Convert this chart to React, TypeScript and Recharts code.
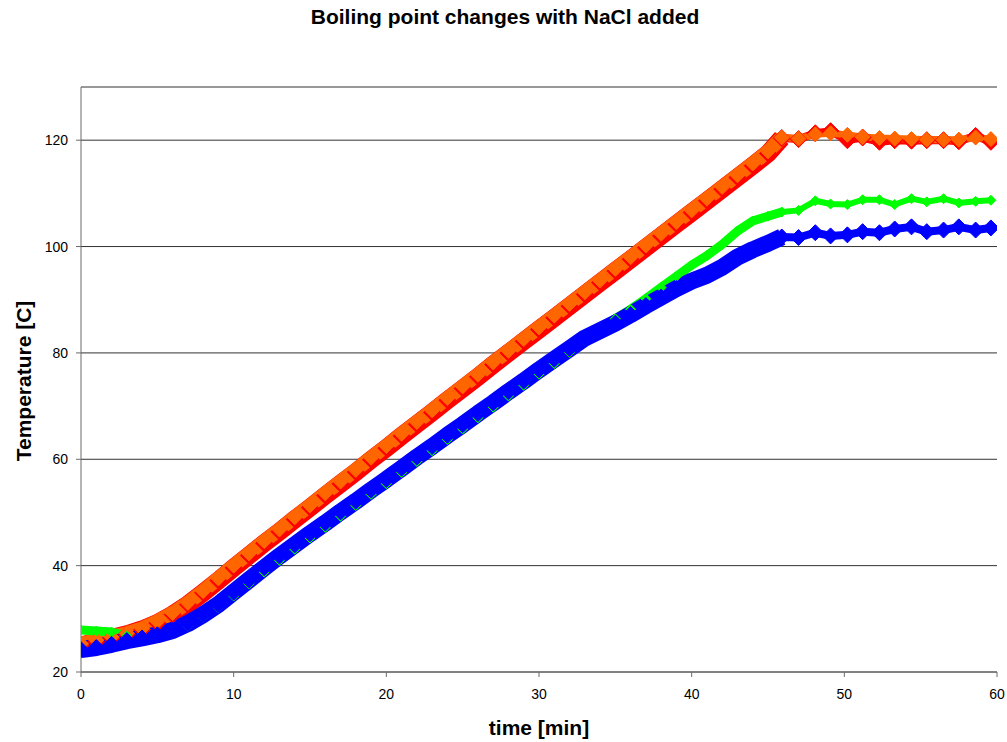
import { CartesianGrid, Line, LineChart, XAxis, YAxis } from "recharts";

// time [min]; 1-min readings while heating, then the sparser plateau samples
const TIME = [
  0, 1, 2, 3, 4, 5, 6, 7, 8, 9, 10, 11, 12, 13, 14, 15, 16, 17, 18, 19, 20, 21, 22, 23,
  24, 25, 26, 27, 28, 29, 30, 31, 32, 33, 34, 35, 36, 37, 38, 39, 40, 41, 42, 43, 44, 45,
  45.9, 47.0, 48.1, 49.1, 50.2, 51.2, 52.3, 53.3, 54.4, 55.4, 56.5, 57.5, 58.6, 59.6,
];

const BLUE = [
  24.2, 24.6, 25.2, 25.9, 26.4, 27.0, 27.8, 29.1, 30.8, 32.7, 35.0, 37.3, 39.6, 41.8, 43.9,
  46.0, 48.0, 50.1, 52.1, 54.2, 56.2, 58.3, 60.4, 62.4, 64.5, 66.5, 68.6, 70.6, 72.7, 74.7,
  76.8, 78.8, 80.8, 82.8, 84.2, 85.6, 87.2, 88.9, 90.5, 92.1, 93.5, 94.6, 96.1, 98.0, 99.4,
  100.6,
  101.8, 101.7, 102.6, 102.0, 102.2, 102.8, 102.6, 103.3, 103.7, 102.8, 103.1, 103.7, 103.1, 103.5,
];

const GREEN = [
  27.9, 27.7, 27.5, 26.8, 26.1, 26.6, 27.3, 28.6, 30.3, 32.1, 34.3, 36.6, 38.8, 41.0, 43.1,
  45.2, 47.2, 49.3, 51.3, 53.4, 55.4, 57.5, 59.6, 61.6, 63.7, 65.7, 67.8, 69.8, 71.9, 73.9,
  76.0, 78.0, 80.1, 82.3, 84.6, 86.4, 88.2, 90.2, 92.3, 94.4, 96.5, 98.3, 100.4, 102.9, 104.8,
  105.7,
  106.5, 106.8, 108.6, 108.0, 107.9, 108.8, 108.8, 107.9, 109.0, 108.4, 109.0, 108.2, 108.5, 108.7,
];

const RED = [
  25.0, 25.7, 26.4, 27.1, 28.0, 29.2, 30.8, 32.7, 34.9, 37.2, 39.6, 41.9, 44.2, 46.4, 48.7,
  50.9, 53.2, 55.4, 57.6, 59.9, 62.1, 64.4, 66.6, 68.8, 71.1, 73.3, 75.5, 77.8, 80.0, 82.2,
  84.4, 86.6, 88.8, 91.0, 93.2, 95.4, 97.6, 99.8, 102.0, 104.2, 106.4, 108.6, 110.8, 113.0, 115.2,
  117.5,
  120.4, 120.2, 121.3, 121.7, 120.0, 120.5, 119.7, 120.0, 119.9, 120.0, 120.0, 119.8, 120.8, 119.7,
];

const ORANGE = [
  25.3, 26.0, 26.6, 27.3, 28.2, 29.5, 31.1, 33.0, 35.2, 37.6, 40.0, 42.3, 44.6, 46.8, 49.1,
  51.3, 53.6, 55.8, 58.0, 60.3, 62.5, 64.8, 67.0, 69.2, 71.5, 73.7, 75.9, 78.2, 80.4, 82.6,
  84.8, 87.0, 89.2, 91.4, 93.6, 95.8, 98.0, 100.2, 102.4, 104.6, 106.8, 109.0, 111.2, 113.4, 115.6,
  117.9,
  120.5, 120.3, 121.1, 121.3, 121.0, 120.6, 120.4, 120.3, 120.2, 120.1, 120.1, 120.1, 120.5, 120.2,
];

const X_TICKS = [0, 10, 20, 30, 40, 50, 60];
const Y_TICKS = [20, 40, 60, 80, 100, 120];

const TITLE = "Boiling point changes with NaCl added";
const X_TITLE = "time [min]";
const Y_TITLE = "Temperature [C]";

// last sample of the dense heating part (markers merge into a solid band there)
const RAMP_END = 45.9;

const FONT = "Arial, 'Liberation Sans', sans-serif";
const AXIS_COLOR = "#6b6b6b";

const data = TIME.map((t, i) => {
  const ramp = t <= RAMP_END;
  return {
    t,
    blue: BLUE[i],
    green: GREEN[i],
    red: RED[i],
    orange: ORANGE[i],
    blueRamp: ramp ? BLUE[i] : null,
    greenRamp: ramp ? GREEN[i] : null,
    redRamp: ramp ? RED[i] : null,
    orangeRamp: ramp ? ORANGE[i] : null,
  };
});

const diamond = (r: number, color: string) => (props: any) => {
  const { cx, cy, index } = props;
  if (cx == null || cy == null) return <g key={`e-${index}`} />;
  return (
    <path
      key={`d-${index}`}
      d={`M${cx},${cy - r}L${cx + r},${cy}L${cx},${cy + r}L${cx - r},${cy}Z`}
      fill={color}
      stroke={color}
      strokeWidth={1}
    />
  );
};

const SERIES = [
  { key: "red", color: "#ff0000", band: 18, line: 8, r: 8.5 },
  { key: "orange", color: "#ff6600", band: 14, line: 7, r: 7.5 },
  { key: "green", color: "#00ff00", band: 9, line: 6, r: 5 },
  { key: "blue", color: "#0000ff", band: 17, line: 8, r: 8 },
];

export default function App() {
  return (
    <div style={{ position: "absolute", left: 0, top: 0, width: 1007, height: 742, background: "#fff" }}>
      <LineChart
        width={1007}
        height={742}
        data={data}
        margin={{ top: 87, right: 10, left: 0, bottom: 40 }}
      >
        <CartesianGrid vertical={false} stroke="#333" strokeWidth={1} />
        <XAxis
          dataKey="t"
          type="number"
          domain={[0, 60]}
          ticks={X_TICKS}
          height={30}
          stroke={AXIS_COLOR}
          tickSize={5}
          tickMargin={12}
          tick={{ fontSize: 14, fill: "#000", fontFamily: FONT }}
          allowDataOverflow
        />
        <YAxis
          type="number"
          domain={[20, 130]}
          ticks={Y_TICKS}
          width={81}
          stroke={AXIS_COLOR}
          tickSize={5}
          tickMargin={8}
          tick={{ fontSize: 14, fill: "#000", fontFamily: FONT }}
          allowDataOverflow
        />
        {SERIES.flatMap((s) => [
          <Line
            key={`${s.key}-band`}
            dataKey={`${s.key}Ramp`}
            stroke={s.color}
            strokeWidth={s.band}
            strokeLinejoin="round"
            dot={false}
            activeDot={false}
            isAnimationActive={false}
          />,
          <Line
            key={s.key}
            dataKey={s.key}
            stroke={s.color}
            strokeWidth={s.line}
            strokeLinejoin="round"
            dot={diamond(s.r, s.color)}
            activeDot={false}
            isAnimationActive={false}
          />,
        ])}
      </LineChart>
      <svg
        width={1007}
        height={742}
        style={{ position: "absolute", left: 0, top: 0, pointerEvents: "none" }}
      >
        <text x={505} y={24} textAnchor="middle" fontFamily={FONT} fontWeight="bold" fontSize={21}>
          {TITLE}
        </text>
        <text x={539} y={735} textAnchor="middle" fontFamily={FONT} fontWeight="bold" fontSize={21}>
          {X_TITLE}
        </text>
        <text
          x={31}
          y={381}
          transform="rotate(-90 31 381)"
          textAnchor="middle"
          fontFamily={FONT}
          fontWeight="bold"
          fontSize={21}
        >
          {Y_TITLE}
        </text>
      </svg>
    </div>
  );
}
